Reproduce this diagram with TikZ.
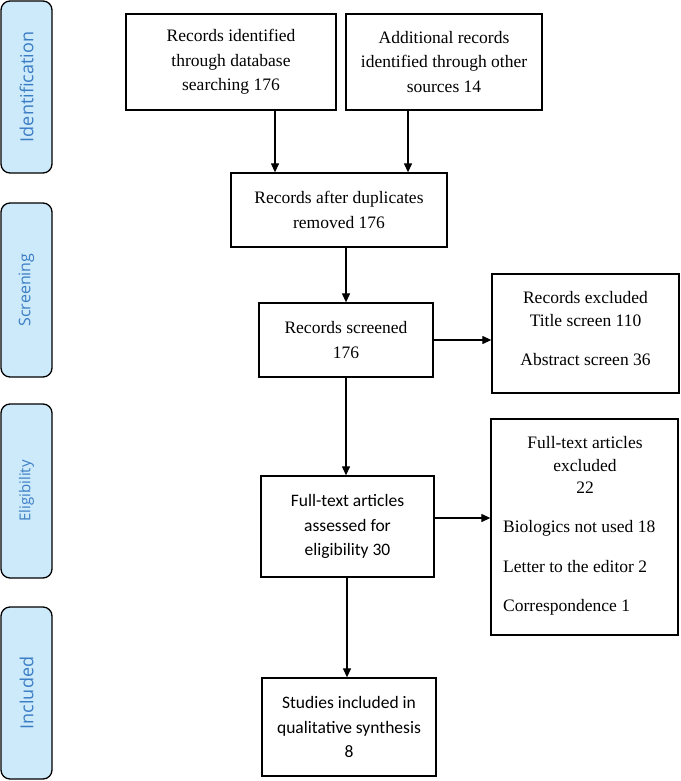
\documentclass[tikz,border=0pt]{standalone}
\usepackage{fontspec}
\setmainfont{Liberation Serif}
\newfontfamily\calfont{Carlito}
\newfontfamily\labfont{Open Sans}
\usetikzlibrary{arrows.meta}
\definecolor{labfill}{HTML}{CDEAFB}
\definecolor{labtext}{HTML}{3B7DC4}
\begin{document}
\begin{tikzpicture}[x=1pt,y=-1pt,
  box/.style={draw,line width=1.3pt,align=center,inner sep=2pt,
    font=\fontsize{17.5}{24.5}\selectfont},
  cbox/.style={box,font=\calfont\fontsize{17.5}{24.5}\selectfont},
  txt/.style={inner sep=0pt,font=\fontsize{17.5}{24.5}\selectfont},
  lab/.style={draw,line width=1.3pt,rounded corners=9pt,fill=labfill,
    text=labtext,rotate=90,inner sep=0pt,minimum height=51pt},
  arr/.style={line width=1.2pt,-{Triangle[length=9pt,width=8pt]}}]
\useasboundingbox (0,0) rectangle (680,781);
% side labels
\node[lab,minimum width=172pt,font=\labfont\fontsize{18}{20}\selectfont] (lid) at (26.5,87) {Identification};
\node[lab,minimum width=174pt,font=\labfont\fontsize{16}{18}\selectfont] (lscr) at (26.5,290) {Screening};
\node[lab,minimum width=174pt,font=\labfont\fontsize{15}{17}\selectfont] (lelig) at (26.5,491) {Eligibility};
\node[lab,minimum width=172pt,font=\labfont\fontsize{18}{20}\selectfont] (linc) at (26.5,693) {Included};
% boxes
\node[box,minimum width=210pt,minimum height=96pt] (b1) at (231,62) {Records identified\\through database\\searching 176};
\node[box,minimum width=196pt,minimum height=96pt] (b2) at (444,62) {Additional records\\identified through other\\sources 14};
\node[box,minimum width=216pt,minimum height=74pt] (b3) at (339,210) {Records after duplicates\\removed 176};
\node[box,minimum width=174pt,minimum height=74pt] (b4) at (346,340) {Records screened\\176};
\node[box,minimum width=187pt,minimum height=119pt] (b5) at (585.5,333.5) {};
\node[txt] (t51) at (585.5,298) {Records excluded};
\node[txt] (t52) at (585.5,321) {Title screen 110};
\node[txt] (t53) at (585.5,360) {Abstract screen 36};
\node[cbox,minimum width=173pt,minimum height=101pt] (b6) at (347.5,526.5) {Full-text articles\\assessed for\\eligibility 30};
\node[box,minimum width=187pt,minimum height=216pt] (b7) at (584.5,527) {};
\node[txt] (t71) at (585,443) {Full-text articles};
\node[txt] (t72) at (585,466) {excluded};
\node[txt] (t73) at (585,488) {22};
\node[txt,anchor=west] (t74) at (503,528) {Biologics not used 18};
\node[txt,anchor=west] (t75) at (503,567) {Letter to the editor 2};
\node[txt,anchor=west] (t76) at (503,607) {Correspondence 1};
\node[cbox,minimum width=174pt,minimum height=98pt] (b8) at (349,727) {Studies included in\\qualitative synthesis\\8};
% connectors
\coordinate (x1) at (275,0);
\coordinate (x2) at (408,0);
\coordinate (x3) at (346,0);
\coordinate (x4) at (347,0);
\coordinate (y2) at (0,518);
\draw[arr] (b1.south -| x1) -- (b3.north -| x1);
\draw[arr] (b2.south -| x2) -- (b3.north -| x2);
\draw[arr] (b3.south -| x3) -- (b4.north -| x3);
\draw[arr] (b4.east) -- (b5.west |- b4.east);
\draw[arr] (b4.south -| x3) -- (b6.north -| x3);
\draw[arr] (b6.east |- y2) -- (b7.west |- y2);
\draw[arr] (b6.south -| x4) -- (b8.north -| x4);
\end{tikzpicture}
\end{document}
